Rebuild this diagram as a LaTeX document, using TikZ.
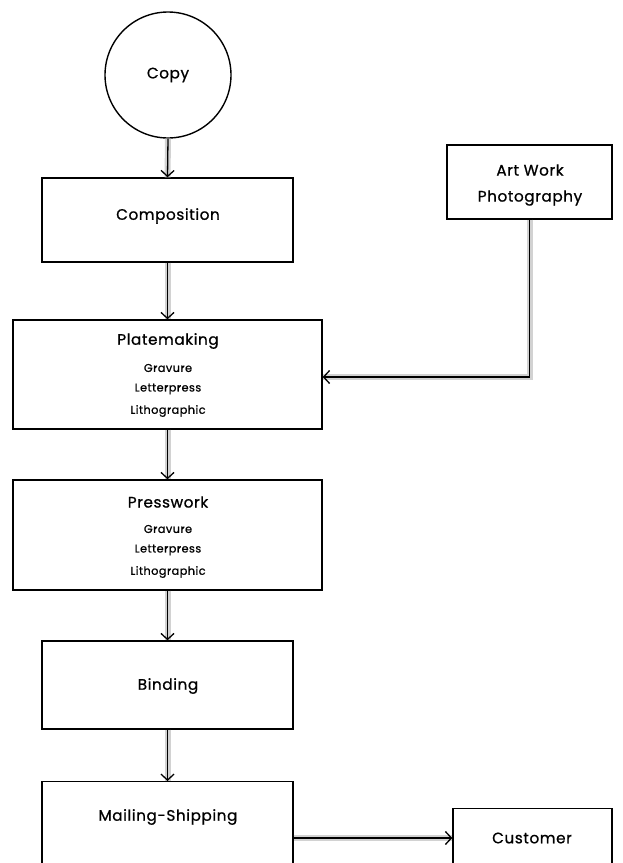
\documentclass[tikz,border=0pt]{standalone}
\usepackage{fontspec}
\setmainfont{Poppins}[LetterSpace=4, FakeBold=0.9]
\usetikzlibrary{arrows.meta}
\tikzset{
  box/.style={draw=black, line width=1.4pt, rectangle, inner sep=0pt},
  ttl/.style={font=\fontsize{15.2}{17}\selectfont, inner sep=0pt},
  sub/.style={font=\fontsize{11.3}{13}\selectfont, inner sep=0pt},
  flow/.style={line width=1.3pt, -{Straight Barb[length=6pt,width=13pt,line width=1.3pt]},
    preaction={draw=gray!35, line width=6pt, arrows=-}},
}
\begin{document}
\begin{tikzpicture}[x=1pt,y=-1pt]
\useasboundingbox (0,0) rectangle (622,863);
\clip (0,0) rectangle (622,863);
% nodes
\node[box, circle, minimum size=126pt] (copy) at (168,75) {};
\node[ttl] (copyt) at (168,75) {Copy};

\node[box, minimum width=251pt, minimum height=84pt] (comp) at (167.5,220) {};
\node[ttl] (compt) at (168,216) {Composition};

\node[box, minimum width=165pt, minimum height=74pt] (art) at (529.5,182) {};
\node[ttl] (artt1) at (530,170) {Art Work};
\node[ttl] (artt2) at (530,198) {Photography};

\node[box, minimum width=309pt, minimum height=109pt] (plate) at (167.5,374.5) {};
\node[ttl] (platet) at (168,341) {Platemaking};
\node[sub] (plate1) at (168,368) {Gravure};
\node[sub] (plate2) at (168,389) {Letterpress};
\node[sub] (plate3) at (168,411) {Lithographic};

\node[box, minimum width=309pt, minimum height=110pt] (press) at (167.5,535) {};
\node[ttl] (presst) at (168,502) {Presswork};
\node[sub] (press1) at (168,529) {Gravure};
\node[sub] (press2) at (168,550) {Letterpress};
\node[sub] (press3) at (168,572) {Lithographic};

\node[box, minimum width=251pt, minimum height=88pt] (bind) at (167.5,685) {};
\node[ttl] (bindt) at (168,686) {Binding};

\node[box, minimum width=251pt, minimum height=110pt, anchor=north] (mail) at (167.5,781) {};
\node[ttl] (mailt) at (168,817) {Mailing-Shipping};

\node[box, minimum width=159pt, minimum height=70pt, anchor=north] (cust) at (532.5,808) {};
\node[ttl] (custt) at (532,838) {Customer};
\coordinate (custw) at (cust.west |- custt);

% connectors
\draw[flow] (copy.south) -- (comp.north);
\draw[flow] (comp.south) -- (plate.north);
\draw[flow] (plate.south) -- (press.north);
\draw[flow] (press.south) -- (bind.north);
\draw[flow] (bind.south) -- (mail.north);
\draw[flow] (art.south) |- (plate.east |- 0,377);
\draw[flow] (mail.east |- custw) -- (custw);
\end{tikzpicture}
\end{document}
